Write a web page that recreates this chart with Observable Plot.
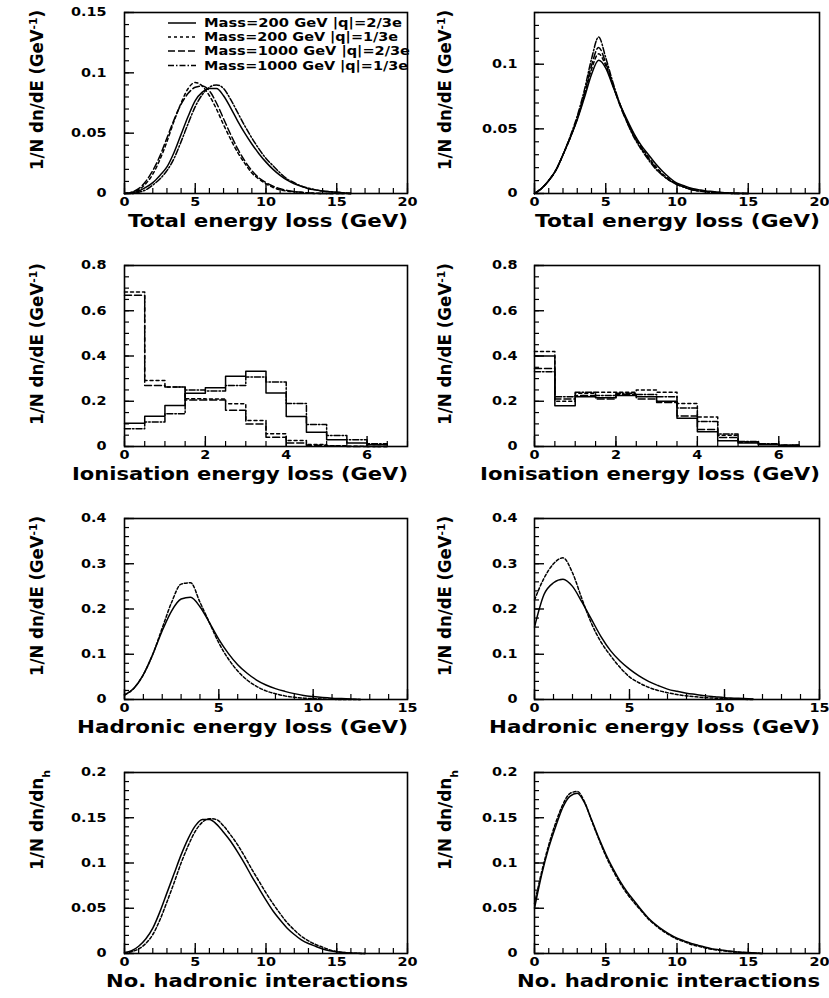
<!DOCTYPE html>
<html><head><meta charset="utf-8">
<script src="https://cdn.jsdelivr.net/npm/d3@7"></script>
<script src="https://cdn.jsdelivr.net/npm/@observablehq/plot@0.6"></script>
<style>
body{margin:0;background:#fff;}
#chart{position:relative;width:829px;height:998px;overflow:hidden;background:#fff;}
#chart svg{position:absolute;}
</style></head><body><div id="chart"></div>
<script>
// ---------- legend ----------
const legendLabels = ["Mass=200 GeV |q|=2/3e", "Mass=200 GeV |q|=1/3e", "Mass=1000 GeV |q|=2/3e", "Mass=1000 GeV |q|=1/3e"];

// ---------- row 1: total energy loss ----------
const totalLX = [0,0.5,1,1.5,2,2.5,3,3.5,4,4.5,5,5.5,6,6.5,7,7.5,8,8.5,9,9.5,10,10.5,11,11.5,12,12.5,13,13.5,14,14.5,15,15.5,16];
const totalL_m200q2 = [0,0.0005,0.002,0.005,0.009,0.015,0.022,0.034,0.049,0.064,0.077,0.084,0.087,0.087,0.081,0.071,0.06,0.05,0.041,0.033,0.026,0.02,0.015,0.011,0.008,0.006,0.004,0.003,0.002,0.0015,0.001,0.0005,0];
const totalL_m200q1 = [0,0.001,0.003,0.008,0.016,0.028,0.043,0.06,0.075,0.087,0.092,0.089,0.081,0.07,0.057,0.045,0.034,0.025,0.017,0.012,0.008,0.005,0.003,0.002,0.0015,0.001,0.0005,0,0,0,0,0,0];
const totalL_m1000q2 = [0,0.001,0.004,0.01,0.019,0.031,0.046,0.061,0.074,0.083,0.088,0.089,0.085,0.075,0.062,0.049,0.037,0.027,0.019,0.013,0.009,0.006,0.004,0.0025,0.0015,0.001,0.0005,0.0003,0,0,0,0,0];
const totalL_m1000q1 = [0,0,0.001,0.003,0.007,0.012,0.019,0.029,0.043,0.058,0.072,0.082,0.088,0.09,0.087,0.078,0.067,0.056,0.046,0.037,0.029,0.023,0.017,0.012,0.009,0.006,0.0045,0.003,0.002,0.0015,0.001,0.0005,0];

const totalRX = [0,0.5,1,1.5,2,2.5,3,3.5,4,4.5,5,5.5,6,6.5,7,7.5,8,8.5,9,9.5,10,10.5,11,11.5,12,12.5,13,13.5,14,14.5,15];
const totalR_m200q2 = [0,0.004,0.01,0.018,0.03,0.043,0.057,0.074,0.092,0.103,0.097,0.083,0.069,0.057,0.046,0.037,0.03,0.023,0.017,0.012,0.008,0.006,0.004,0.003,0.002,0.0015,0.001,0.0005,0.0003,0.0001,0];
const totalR_m200q1 = [0,0.004,0.01,0.018,0.03,0.043,0.058,0.076,0.096,0.108,0.099,0.084,0.069,0.056,0.045,0.036,0.028,0.021,0.015,0.011,0.007,0.005,0.0035,0.0025,0.0015,0.001,0.0007,0.0004,0.0002,0,0];
const totalR_m1000q2 = [0,0.004,0.01,0.018,0.03,0.043,0.058,0.077,0.099,0.113,0.101,0.084,0.068,0.055,0.044,0.035,0.027,0.02,0.014,0.01,0.007,0.005,0.003,0.002,0.0015,0.001,0.0006,0.0003,0,0,0];
const totalR_m1000q1 = [0,0.004,0.01,0.018,0.03,0.044,0.06,0.08,0.104,0.121,0.105,0.086,0.069,0.055,0.043,0.034,0.026,0.019,0.014,0.01,0.007,0.005,0.003,0.002,0.0014,0.0008,0.0004,0.0002,0,0,0];

// ---------- row 2: ionisation energy loss (histograms, 0.5 GeV bins) ----------
const ionEdges = [0,0.5,1,1.5,2,2.5,3,3.5,4,4.5,5,5.5,6,6.5];
const ionL_m200q2 = [0.103,0.134,0.181,0.235,0.26,0.31,0.333,0.236,0.133,0.063,0.03,0.015,0.008];
const ionL_m200q1 = [0.683,0.292,0.263,0.211,0.21,0.189,0.115,0.056,0.027,0.009,0.003,0.001,0];
const ionL_m1000q2 = [0.668,0.27,0.263,0.205,0.205,0.16,0.1,0.041,0.015,0.005,0.002,0,0];
const ionL_m1000q1 = [0.078,0.108,0.145,0.25,0.245,0.27,0.307,0.285,0.19,0.097,0.049,0.03,0.012];
const ionR_m200q2 = [0.40,0.18,0.22,0.215,0.225,0.22,0.20,0.125,0.065,0.025,0.015,0.008,0.004];
const ionR_m200q1 = [0.42,0.20,0.235,0.24,0.24,0.25,0.24,0.19,0.13,0.05,0.02,0.01,0.005];
const ionR_m1000q2 = [0.345,0.21,0.225,0.21,0.23,0.21,0.195,0.135,0.075,0.04,0.02,0.01,0.005];
const ionR_m1000q1 = [0.33,0.22,0.24,0.225,0.235,0.23,0.22,0.17,0.11,0.055,0.022,0.012,0.006];

// ---------- row 3: hadronic energy loss ----------
const hadLX = [0,0.5,1,1.5,2,2.5,3,3.5,4,4.5,5,5.5,6,6.5,7,7.5,8,8.5,9,9.5,10,10.5,11,11.5,12,12.5];
const hadL_upper = [0.01,0.025,0.055,0.10,0.158,0.215,0.255,0.258,0.215,0.17,0.125,0.09,0.063,0.043,0.029,0.019,0.013,0.008,0.005,0.003,0.002,0.001,0.0005,0,0,0];
const hadL_lower = [0.01,0.025,0.055,0.10,0.152,0.196,0.222,0.226,0.205,0.17,0.133,0.102,0.077,0.058,0.043,0.032,0.024,0.018,0.013,0.009,0.0065,0.0045,0.003,0.002,0.001,0];
const hadRX = [0,0.5,1,1.5,2,2.5,3,3.5,4,4.5,5,5.5,6,6.5,7,7.5,8,8.5,9,9.5,10,10.5,11,11.5];
const hadR_upper = [0.22,0.268,0.30,0.313,0.28,0.222,0.168,0.127,0.097,0.071,0.05,0.037,0.027,0.02,0.015,0.011,0.008,0.006,0.004,0.003,0.002,0.001,0.0005,0];
const hadR_lower = [0.16,0.232,0.258,0.266,0.25,0.215,0.177,0.139,0.108,0.085,0.067,0.052,0.04,0.031,0.023,0.018,0.014,0.011,0.008,0.006,0.004,0.003,0.002,0.001];

// ---------- row 4: number of hadronic interactions ----------
const nhLX = [0,0.5,1,1.5,2,2.5,3,3.5,4,4.5,5,5.5,6,6.5,7,7.5,8,8.5,9,9.5,10,10.5,11,11.5,12,12.5,13,13.5,14,14.5,15,15.5,16,16.5,17];
const nhL_a = [0.001,0.003,0.008,0.016,0.028,0.046,0.067,0.088,0.109,0.127,0.141,0.148,0.148,0.143,0.134,0.124,0.112,0.099,0.085,0.072,0.059,0.047,0.037,0.028,0.021,0.015,0.011,0.008,0.005,0.003,0.002,0.001,0.0005,0.0002,0];
const nhL_b = [0,0.002,0.005,0.011,0.021,0.037,0.057,0.078,0.1,0.119,0.135,0.145,0.149,0.148,0.141,0.131,0.12,0.107,0.093,0.08,0.067,0.055,0.044,0.034,0.026,0.019,0.014,0.01,0.007,0.004,0.002,0.001,0.0005,0.0002,0];
const nhRX = [0,0.5,1,1.5,2,2.5,3,3.5,4,4.5,5,5.5,6,6.5,7,7.5,8,8.5,9,9.5,10,10.5,11,11.5,12,12.5,13,13.5,14,14.5,15,15.5,16];
const nhR_a = [0.05,0.087,0.117,0.141,0.162,0.174,0.177,0.167,0.148,0.128,0.11,0.094,0.08,0.068,0.058,0.048,0.039,0.032,0.026,0.021,0.017,0.014,0.011,0.009,0.007,0.005,0.004,0.003,0.002,0.0015,0.001,0.0005,0];
const nhR_b = [0.055,0.09,0.12,0.145,0.165,0.177,0.179,0.168,0.147,0.127,0.108,0.092,0.078,0.066,0.056,0.047,0.038,0.031,0.025,0.02,0.016,0.013,0.01,0.008,0.006,0.0045,0.0035,0.0025,0.0018,0.0012,0.0008,0.0004,0];

// ---------- tick values ----------
const ticks20 = [0,5,10,15,20];
const ticks15 = [0,5,10,15];
const ticksIon = [0,2,4,6];
const yTicksTotL = [0,0.05,0.1,0.15];
const yTicksTotR = [0,0.05,0.1];
const yTicksIon = [0,0.2,0.4,0.6,0.8];
const yTicksHad = [0,0.1,0.2,0.3,0.4];
const yTicksNh = [0,0.05,0.1,0.15,0.2];

// ---------- titles ----------
const xTitles = ["Total energy loss (GeV)", "Ionisation energy loss (GeV)", "Hadronic energy loss (GeV)", "No. hadronic interactions"];

// ---------- styles ----------
const DASH = {solid: null, dash: "3,3", long: "7,3", dashdot: "6,2,1.5,2", fine: "3,2"};
const FONT = "DejaVu Sans, Liberation Sans, sans-serif";

const pts = (xs, ys) => xs.map((x, i) => ({x, y: ys[i]}));
const hist = (edges, vals) => edges.map((x, i) => ({x, y: vals[Math.min(i, vals.length - 1)]}));

const container = document.getElementById("chart");
const FH = 181, MT = 12, MB = 42;

function addPanel(c) {
  const fw = c.width - c.ml - c.mr;
  const eps = 1e-9;
  const xMinor = d3.range(c.xDomain[0], c.xDomain[1] + eps, c.xMinorStep);
  const yMinor = d3.range(c.yDomain[0], c.yDomain[1] + eps, c.yMinorStep);
  const fmt = d => String(d);
  const svg = Plot.plot({
    width: c.width, height: MT + FH + MB,
    marginLeft: c.ml, marginRight: c.mr, marginTop: MT, marginBottom: MB,
    x: {domain: c.xDomain},
    y: {domain: c.yDomain},
    style: {fontFamily: FONT, background: "transparent", overflow: "visible", color: "black"},
    marks: [
      Plot.tickX(xMinor, {x: d => d, insetTop: FH - 5, strokeWidth: 1.2}),
      Plot.tickX(c.xMajor, {x: d => d, insetTop: FH - 10, strokeWidth: 1.4}),
      Plot.tickY(yMinor, {y: d => d, insetRight: fw - 5, strokeWidth: 1.2}),
      Plot.tickY(c.yMajor, {y: d => d, insetRight: fw - 10, strokeWidth: 1.4}),
      Plot.axisX({ticks: c.xMajor, tickSize: 0, tickPadding: 4, fontSize: 12, fontWeight: "bold", tickFormat: fmt, label: null}),
      Plot.axisY({ticks: c.yMajor, tickSize: 0, tickPadding: c.tickPad, fontSize: 12, fontWeight: "bold", tickFormat: fmt, label: null}),
      ...c.series.map(s => Plot.line(s.data, {x: "x", y: "y", stroke: "black", strokeWidth: 1.5, strokeDasharray: s.dash, curve: s.curve || "monotone-x"})),
      Plot.frame({stroke: "black", strokeWidth: 1.6})
    ]
  });
  svg.style.left = c.left + "px";
  svg.style.top = c.top + "px";
  container.appendChild(svg);
  const s = d3.select(svg);
  // widen tick labels a little like the stretched original
  s.selectAll('g[aria-label="x-axis tick label"] text, g[aria-label="y-axis tick label"] text').each(function() {
    const len = this.getComputedTextLength ? this.getComputedTextLength() : 0;
    if (len > 0) d3.select(this).attr("textLength", len * 1.2).attr("lengthAdjust", "spacingAndGlyphs");
  });
  // x title
  s.append("text")
    .attr("x", c.width - c.mr + 1).attr("y", MT + FH + 34)
    .attr("text-anchor", "end").attr("font-family", FONT).attr("font-weight", "bold").attr("font-size", 18)
    .attr("textLength", c.xTitleLen).attr("lengthAdjust", "spacingAndGlyphs")
    .text(c.xTitle);
  // y title
  const yt = s.append("text")
    .attr("transform", `translate(${c.yTitleX},${MT - 2}) rotate(-90)`)
    .attr("text-anchor", "end").attr("font-family", FONT).attr("font-weight", "bold").attr("font-size", 17)
    .attr("textLength", c.yTitleLen).attr("lengthAdjust", "spacingAndGlyphs");
  c.yTitle.forEach(p => {
    const t = yt.append("tspan").text(p.t);
    if (p.sup) t.attr("baseline-shift", "super").attr("font-size", 11);
    if (p.sub) t.attr("baseline-shift", "sub").attr("font-size", 11);
  });
  return s;
}

const yTitleE = [{t: "1/N dn/dE (GeV"}, {t: "-1", sup: true}, {t: ")"}];
const yTitleN = [{t: "1/N dn/dn"}, {t: "h", sub: true}];
const L = {left: 0, width: 414, ml: 124, mr: 7, tickPad: 18, yTitleX: 43};
const R = {left: 414, width: 415, ml: 120, mr: 10, tickPad: 17, yTitleX: 37};
const rowTops = [0, 253, 506, 760];

const p1 = addPanel({...L, top: rowTops[0], xDomain: [0, 20], yDomain: [0, 0.15], xMajor: ticks20, xMinorStep: 1, yMajor: yTicksTotL, yMinorStep: 0.01,
  xTitle: xTitles[0], xTitleLen: 280, yTitle: yTitleE, yTitleLen: 160,
  series: [
    {data: pts(totalLX, totalL_m200q2), dash: DASH.solid},
    {data: pts(totalLX, totalL_m200q1), dash: DASH.dash},
    {data: pts(totalLX, totalL_m1000q2), dash: DASH.long},
    {data: pts(totalLX, totalL_m1000q1), dash: DASH.dashdot}
  ]});
addPanel({...R, top: rowTops[0], xDomain: [0, 20], yDomain: [0, 0.14], xMajor: ticks20, xMinorStep: 1, yMajor: yTicksTotR, yMinorStep: 0.01,
  xTitle: xTitles[0], xTitleLen: 285, yTitle: yTitleE, yTitleLen: 160,
  series: [
    {data: pts(totalRX, totalR_m200q2), dash: DASH.solid},
    {data: pts(totalRX, totalR_m200q1), dash: DASH.dash},
    {data: pts(totalRX, totalR_m1000q2), dash: DASH.long},
    {data: pts(totalRX, totalR_m1000q1), dash: DASH.dashdot}
  ]});
addPanel({...L, top: rowTops[1], xDomain: [0, 7], yDomain: [0, 0.8], xMajor: ticksIon, xMinorStep: 0.5, yMajor: yTicksIon, yMinorStep: 0.05,
  xTitle: xTitles[1], xTitleLen: 336, yTitle: yTitleE, yTitleLen: 162,
  series: [
    {data: hist(ionEdges, ionL_m200q2), dash: DASH.solid, curve: "step-after"},
    {data: hist(ionEdges, ionL_m200q1), dash: DASH.dash, curve: "step-after"},
    {data: hist(ionEdges, ionL_m1000q2), dash: DASH.long, curve: "step-after"},
    {data: hist(ionEdges, ionL_m1000q1), dash: DASH.dashdot, curve: "step-after"}
  ]});
addPanel({...R, top: rowTops[1], xDomain: [0, 7], yDomain: [0, 0.8], xMajor: ticksIon, xMinorStep: 0.5, yMajor: yTicksIon, yMinorStep: 0.05,
  xTitle: xTitles[1], xTitleLen: 340, yTitle: yTitleE, yTitleLen: 162,
  series: [
    {data: hist(ionEdges, ionR_m200q2), dash: DASH.solid, curve: "step-after"},
    {data: hist(ionEdges, ionR_m200q1), dash: DASH.dash, curve: "step-after"},
    {data: hist(ionEdges, ionR_m1000q2), dash: DASH.long, curve: "step-after"},
    {data: hist(ionEdges, ionR_m1000q1), dash: DASH.dashdot, curve: "step-after"}
  ]});
addPanel({...L, top: rowTops[2], xDomain: [0, 15], yDomain: [0, 0.4], xMajor: ticks15, xMinorStep: 1, yMajor: yTicksHad, yMinorStep: 0.02,
  xTitle: xTitles[2], xTitleLen: 331, yTitle: yTitleE, yTitleLen: 160,
  series: [
    {data: pts(hadLX, hadL_lower), dash: DASH.solid},
    {data: pts(hadLX, hadL_upper), dash: DASH.fine}
  ]});
addPanel({...R, top: rowTops[2], xDomain: [0, 15], yDomain: [0, 0.4], xMajor: ticks15, xMinorStep: 1, yMajor: yTicksHad, yMinorStep: 0.02,
  xTitle: xTitles[2], xTitleLen: 331, yTitle: yTitleE, yTitleLen: 160,
  series: [
    {data: pts(hadRX, hadR_lower), dash: DASH.solid},
    {data: pts(hadRX, hadR_upper), dash: DASH.fine}
  ]});
addPanel({...L, top: rowTops[3], xDomain: [0, 20], yDomain: [0, 0.2], xMajor: ticks20, xMinorStep: 1, yMajor: yTicksNh, yMinorStep: 0.01,
  xTitle: xTitles[3], xTitleLen: 302, yTitle: yTitleN, yTitleLen: 100,
  series: [
    {data: pts(nhLX, nhL_a), dash: DASH.solid},
    {data: pts(nhLX, nhL_b), dash: DASH.fine}
  ]});
addPanel({...R, top: rowTops[3], xDomain: [0, 20], yDomain: [0, 0.2], xMajor: ticks20, xMinorStep: 1, yMajor: yTicksNh, yMinorStep: 0.01,
  xTitle: xTitles[3], xTitleLen: 303, yTitle: yTitleN, yTitleLen: 100,
  series: [
    {data: pts(nhRX, nhR_a), dash: DASH.solid},
    {data: pts(nhRX, nhR_b), dash: DASH.fine}
  ]});

// legend inside the first panel
const legendDash = [DASH.solid, DASH.dash, DASH.long, DASH.dashdot];
const legendRowY = [23, 37, 51, 65.5];
const legendLen = [198, 194, 206, 204];
const lg = p1.append("g").attr("font-family", FONT).attr("font-weight", "bold").attr("font-size", 11.5).attr("text-anchor", "start");
legendLabels.forEach((lab, i) => {
  lg.append("line").attr("x1", 168).attr("x2", 196).attr("y1", legendRowY[i]).attr("y2", legendRowY[i])
    .attr("stroke", "black").attr("stroke-width", 1.5).attr("stroke-dasharray", legendDash[i]);
  lg.append("text").attr("x", 204).attr("y", legendRowY[i] + 4).attr("text-anchor", "start")
    .attr("textLength", legendLen[i]).attr("lengthAdjust", "spacingAndGlyphs").text(lab);
});
</script>
</body></html>
